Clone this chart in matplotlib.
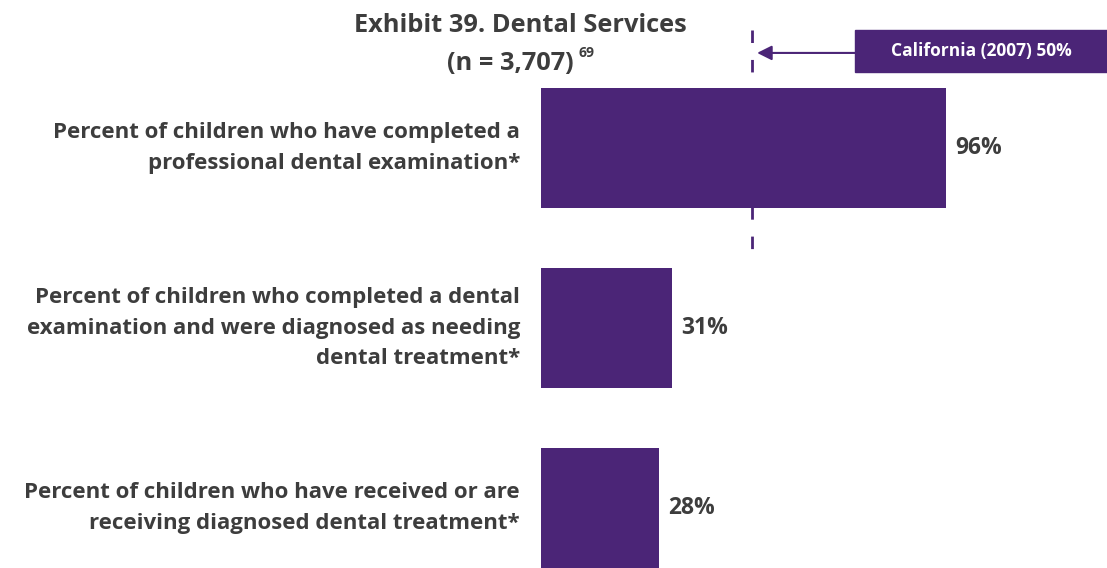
import matplotlib.pyplot as plt
from matplotlib.patches import Rectangle

plt.rcParams['font.family'] = ['Open Sans', 'DejaVu Sans']

labels = [
    "Percent of children who have completed a\nprofessional dental examination*",
    "Percent of children who completed a dental\nexamination and were diagnosed as needing\ndental treatment*",
    "Percent of children who have received or are\nreceiving diagnosed dental treatment*",
]
values = [96, 31, 28]
benchmark = 50
benchmark_label = "California (2007) 50%"
title = "Exhibit 39. Dental Services"
subtitle = "(n = 3,707)"
footnote = "69"

PURPLE = "#4b2577"
TEXT = "#3d3d3d"

fig = plt.figure(figsize=(11.07, 5.68), dpi=100)
ax = fig.add_axes([0, 0, 1, 1])
ax.set_xlim(-128.2, 134.1)
ax.set_ylim(2.333, -0.822)
ax.axis("off")

ypos = list(range(len(values)))

# benchmark reference line (behind the bars)
ax.plot([benchmark, benchmark], [-0.656, 0.567], color=PURPLE, lw=2,
        dashes=(4.5, 6.1), zorder=1)

ax.barh(ypos, values, height=0.667, color=PURPLE, zorder=2)

for y, v, lab in zip(ypos, values, labels):
    ax.text(v + 2.2, y, f"{v}%", ha="left", va="center", fontsize=16.5,
            fontweight="bold", color=TEXT)
    ax.text(-5, y, lab, ha="right", va="center", fontsize=16.0,
            fontweight="bold", color=TEXT, linespacing=1.58)

# callout box with arrow pointing at the benchmark line
box_x0, box_x1 = 74.4, 134.1
box_y0, box_y1 = -0.656, -0.422
ax.add_patch(Rectangle((box_x0, box_y0), box_x1 - box_x0, box_y1 - box_y0,
                       color=PURPLE, zorder=3))
ax.text((box_x0 + box_x1) / 2, (box_y0 + box_y1) / 2, benchmark_label,
        ha="center", va="center", fontsize=12.5, fontweight="bold",
        color="white", zorder=4)
ax.annotate("", xy=(benchmark + 1.2, -0.528), xytext=(box_x0, -0.528),
            arrowprops=dict(arrowstyle="-|>", color=PURPLE, lw=1.5,
                            mutation_scale=22, shrinkA=0, shrinkB=0))

# title
fig.text(0.470, 0.955, title, ha="center", va="center", fontsize=18.3,
         fontweight="bold", color=TEXT)
fig.text(0.518, 0.888, subtitle, ha="right", va="center", fontsize=18.3,
         fontweight="bold", color=TEXT)
fig.text(0.523, 0.906, footnote, ha="left", va="center", fontsize=10,
         fontweight="bold", color=TEXT)

fig.savefig("out.png", dpi=100)
